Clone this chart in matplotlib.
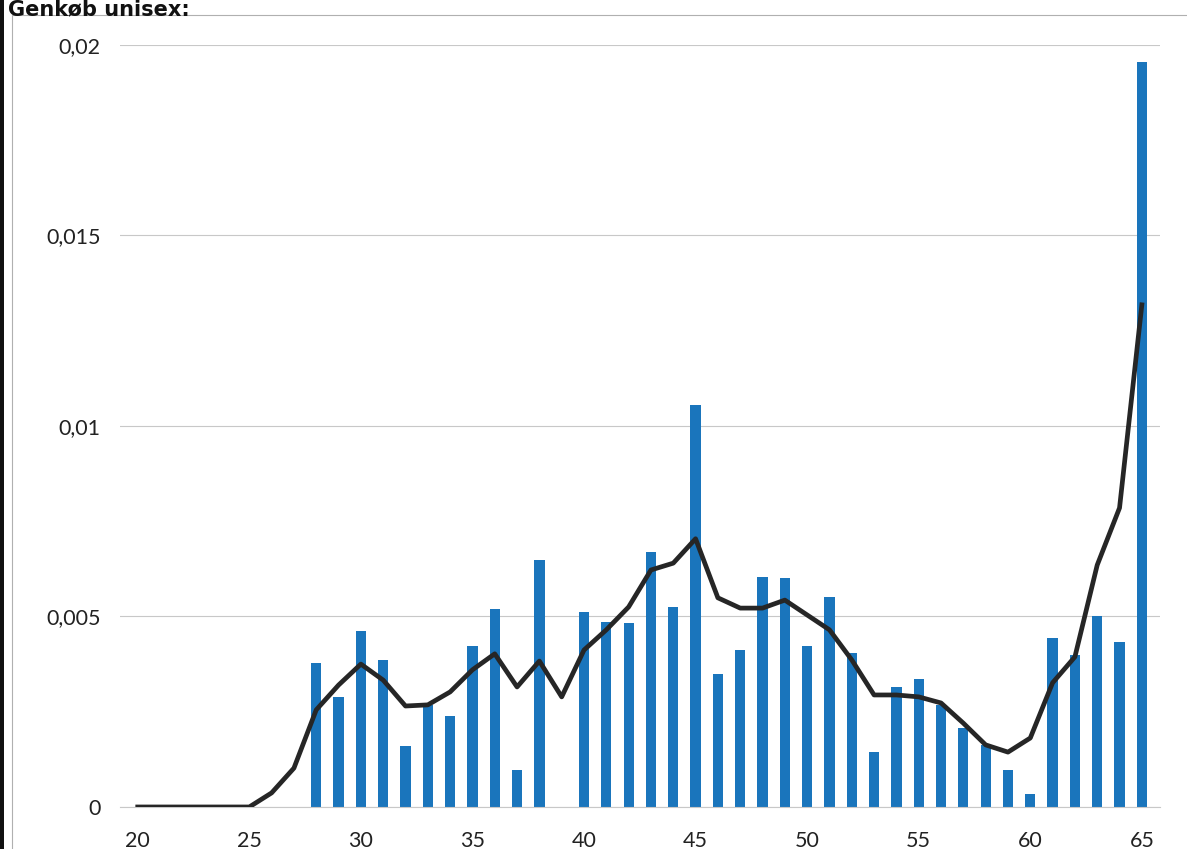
import numpy as np
import matplotlib
matplotlib.use("Agg")
import matplotlib.pyplot as plt
from matplotlib.ticker import FuncFormatter
from matplotlib.patches import Rectangle

# Alder og andele
alder_soejler = list(range(28, 66))
andel_soejler = [0.00378, 0.00289, 0.00462, 0.00386, 0.00160, 0.00268, 0.00239, 0.00423,
                 0.00520, 0.00097, 0.00648, 0.0, 0.00512, 0.00486, 0.00483, 0.00670,
                 0.00525, 0.01055, 0.00349, 0.00412, 0.00604, 0.00601, 0.00423, 0.00551,
                 0.00404, 0.00144, 0.00315, 0.00336, 0.00268, 0.00207, 0.00163, 0.00097,
                 0.00034, 0.00444, 0.00400, 0.00501, 0.00433, 0.01956]

alder_linje = list(range(20, 66))
andel_linje = [0, 0, 0, 0, 0, 0, 0.00037, 0.00102, 0.00255, 0.00320, 0.00375, 0.00333,
               0.00265, 0.00268, 0.00302, 0.00360, 0.00402, 0.00315, 0.00383, 0.00289,
               0.00412, 0.00465, 0.00525, 0.00622, 0.00640, 0.00704, 0.00549, 0.00522,
               0.00522, 0.00543, 0.00504, 0.00465, 0.00386, 0.00294, 0.00294, 0.00289,
               0.00273, 0.00220, 0.00163, 0.00144, 0.00181, 0.00326, 0.00394, 0.00635,
               0.00785, 0.01318]

yticks = [0, 0.005, 0.01, 0.015, 0.02]
xticks = [20, 25, 30, 35, 40, 45, 50, 55, 60, 65]

plt.rcParams['font.family'] = ['Lato', 'DejaVu Sans']

fig = plt.figure(figsize=(11.87, 8.49), dpi=100)
ax = fig.add_axes([0.101, 0.0495, 0.876, 0.8975])

# Søjler og glattet linje
ax.bar(alder_soejler, andel_soejler, width=0.46, color='#1a75bc', zorder=2)
ax.plot(alder_linje, andel_linje, color='#262626', linewidth=3.4, zorder=3,
        solid_joinstyle='round')

ax.set_xlim(19.2, 65.8)
ax.set_ylim(0, 0.02)
ax.set_yticks(yticks)
ax.set_xticks(xticks)


def komma(v, pos):
    if v == 0:
        return '0'
    return ('%g' % v).replace('.', ',')


ax.yaxis.set_major_formatter(FuncFormatter(komma))
ax.tick_params(axis='both', length=0, labelsize=15.5, colors='#222222')
ax.tick_params(axis='y', pad=14)
ax.tick_params(axis='x', pad=17)
ax.grid(axis='y', color='#c8c8c8', linewidth=0.8, zorder=0)
for s in ['top', 'right', 'left']:
    ax.spines[s].set_visible(False)
ax.spines['bottom'].set_color('#c8c8c8')
ax.spines['bottom'].set_linewidth(0.8)

# Ramme om diagrammet og titel
fig.patches.append(Rectangle((12 / 1187, -0.01), 1.0, 1 - 15 / 849 + 0.01,
                             transform=fig.transFigure, fill=False,
                             edgecolor='#b0b0b0', linewidth=0.8))
fig.patches.append(Rectangle((0, 0), 4 / 1187, 1, transform=fig.transFigure,
                             facecolor='#111111', edgecolor='none'))
fig.text(8 / 1187, 1 - 15 / 849, 'Genkøb unisex:', fontsize=15, fontweight='bold',
         family='DejaVu Sans', color='#111111', va='baseline', ha='left')

fig.savefig('out.png', dpi=100)
